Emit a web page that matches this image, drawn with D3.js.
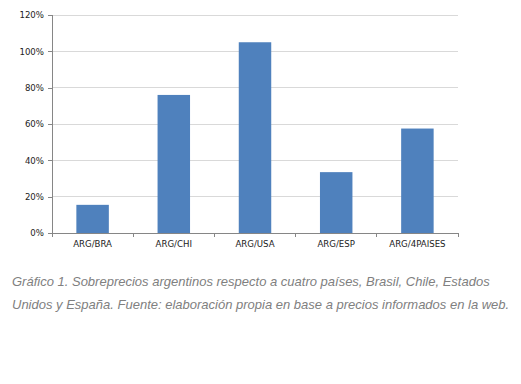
<!DOCTYPE html>
<html>
<head>
<meta charset="utf-8">
<script src="https://cdn.jsdelivr.net/npm/d3@7"></script>
<style>
  body { margin: 0; background: #fff; }
  svg { display: block; }
  .caption { font-family: "Liberation Sans", Arial, sans-serif; font-style: italic; font-size: 13px; fill: #808080; }
  .tick text { font-family: "DejaVu Sans", sans-serif; font-size: 8.6px; fill: #222; }
</style>
</head>
<body>
<svg class="chart" width="521" height="384"></svg>
<script>
var categories = ["ARG/BRA", "ARG/CHI", "ARG/USA", "ARG/ESP", "ARG/4PAISES"];
var values = [0.155, 0.76, 1.05, 0.335, 0.575];
var yTicks = [0, 0.2, 0.4, 0.6, 0.8, 1.0, 1.2];
var captionLines = [
  "Gráfico 1. Sobreprecios argentinos respecto a cuatro países, Brasil, Chile, Estados",
  "Unidos y España. Fuente: elaboración propia en base a precios informados en la web."
];

var svg = d3.select("svg.chart"),
    margin = {top: 15, right: 63, bottom: 151, left: 52};
var width = 521 - margin.left - margin.right,
    height = 384 - margin.top - margin.bottom;
var g = svg.append("g").attr("transform", "translate(" + margin.left + "," + margin.top + ")");

var x = d3.scaleBand()
    .domain(categories)
    .range([0, width])
    .paddingInner(0.6)
    .paddingOuter(0.3);
var y = d3.scaleLinear()
    .domain([0, 1.2])
    .range([height, 0]);

// gridlines
g.append("g")
    .selectAll("line")
    .data(yTicks.slice(1))
    .enter().append("line")
    .attr("x1", 0)
    .attr("x2", width)
    .attr("y1", function(d) { return y(d); })
    .attr("y2", function(d) { return y(d); })
    .attr("stroke", "#d9d9d9")
    .attr("stroke-width", 1)
    .attr("shape-rendering", "crispEdges");

// bars
g.append("g")
    .selectAll("rect")
    .data(values)
    .enter().append("rect")
    .attr("x", function(d, i) { return x(categories[i]); })
    .attr("y", function(d) { return y(d); })
    .attr("width", x.bandwidth())
    .attr("height", function(d) { return height - y(d); })
    .attr("fill", "#4f81bd");

// y axis
var yAxis = g.append("g")
    .call(d3.axisLeft(y).tickValues(yTicks).tickFormat(d3.format(".0%")).tickSize(4).tickPadding(4));
yAxis.select(".domain").attr("stroke", "#868686").attr("shape-rendering", "crispEdges");
yAxis.selectAll(".tick line").attr("stroke", "#868686").attr("shape-rendering", "crispEdges");

// x axis, ticks between categories
var step = width / categories.length;
var xAxis = g.append("g")
    .attr("transform", "translate(0," + height + ")")
    .call(d3.axisBottom(x).tickSize(0).tickPadding(8));
xAxis.select(".domain").attr("stroke", "#868686").attr("shape-rendering", "crispEdges");
xAxis.selectAll(".sep")
    .data(d3.range(categories.length + 1))
    .enter().append("line")
    .attr("class", "sep")
    .attr("x1", function(i) { return i * step; })
    .attr("x2", function(i) { return i * step; })
    .attr("y1", 0)
    .attr("y2", 4)
    .attr("stroke", "#868686")
    .attr("shape-rendering", "crispEdges");

// caption
svg.append("g")
    .selectAll("text")
    .data(captionLines)
    .enter().append("text")
    .attr("class", "caption")
    .attr("x", 12)
    .attr("y", function(d, i) { return 286 + i * 23; })
    .text(function(d) { return d; });
</script>
</body>
</html>
